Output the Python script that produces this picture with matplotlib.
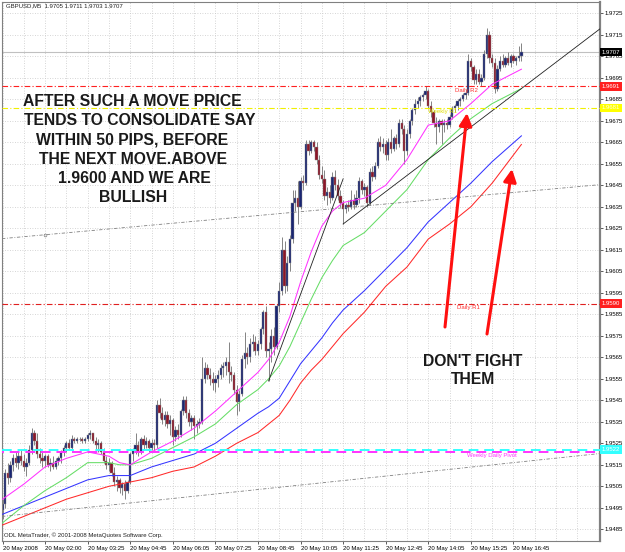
import matplotlib
matplotlib.use("Agg")
import matplotlib.pyplot as plt
from matplotlib.patches import Rectangle
import numpy as np

# ---------------- data ----------------
open_ = [1.9494, 1.9497, 1.9511, 1.9509, 1.9515, 1.9518, 1.9516, 1.9519, 1.9517, 1.9514, 1.9516, 1.9522, 1.9530, 1.9526, 1.9520, 1.9518,
         1.9517, 1.9519, 1.9515, 1.9516, 1.9514, 1.9517, 1.9518, 1.9521, 1.9523, 1.9525, 1.9523, 1.9527, 1.9526, 1.9527, 1.9527, 1.9526,
         1.9527, 1.9529, 1.9530, 1.9526, 1.9524, 1.9525, 1.9521, 1.9517, 1.9515, 1.9516, 1.9511, 1.9507, 1.9508, 1.9504, 1.9506, 1.9503,
         1.9507, 1.9520, 1.9522, 1.9524, 1.9521, 1.9527, 1.9524, 1.9526, 1.9523, 1.9525, 1.9524, 1.9543, 1.9539, 1.9536, 1.9538, 1.9534,
         1.9536, 1.9528, 1.9531, 1.9529, 1.9540, 1.9545, 1.9539, 1.9535, 1.9537, 1.9533, 1.9534, 1.9535, 1.9555, 1.9560, 1.9557, 1.9555,
         1.9553, 1.9555, 1.9557, 1.9560, 1.9561, 1.9563, 1.9558, 1.9557, 1.9550, 1.9544, 1.9548, 1.9564, 1.9567, 1.9565, 1.9571, 1.9572,
         1.9568, 1.9571, 1.9578, 1.9586, 1.9568, 1.9569, 1.9575, 1.9570, 1.9589, 1.9596, 1.9615, 1.9598, 1.9609, 1.9620, 1.9637, 1.9639,
         1.9635, 1.9647, 1.9646, 1.9664, 1.9661, 1.9665, 1.9663, 1.9657, 1.9650, 1.9648, 1.9640, 1.9642, 1.9639, 1.9649, 1.9645, 1.9640,
         1.9637, 1.9634, 1.9636, 1.9635, 1.9638, 1.9636, 1.9639, 1.9647, 1.9643, 1.9644, 1.9637, 1.9651, 1.9649, 1.9654, 1.9665, 1.9663,
         1.9664, 1.9659, 1.9665, 1.9662, 1.9667, 1.9664, 1.9674, 1.9671, 1.9661, 1.9669, 1.9675, 1.9680, 1.9683, 1.9684, 1.9686, 1.9687,
         1.9689, 1.9682, 1.9679, 1.9674, 1.9672, 1.9675, 1.9673, 1.9674, 1.9673, 1.9677, 1.9681, 1.9682, 1.9684, 1.9685, 1.9687, 1.9688,
         1.9703, 1.9700, 1.9694, 1.9697, 1.9693, 1.9695, 1.9706, 1.9715, 1.9704, 1.9702, 1.9690, 1.9699, 1.9703, 1.9701, 1.9704, 1.9702,
         1.9705, 1.9703, 1.9704, 1.9705]
high = [1.9499, 1.9513, 1.9516, 1.9517, 1.9520, 1.9521, 1.9521, 1.9522, 1.9520, 1.9518, 1.9524, 1.9532, 1.9531, 1.9530, 1.9523, 1.9521,
        1.9520, 1.9520, 1.9518, 1.9519, 1.9518, 1.9519, 1.9522, 1.9524, 1.9526, 1.9527, 1.9529, 1.9528, 1.9528, 1.9528, 1.9528, 1.9528,
        1.9530, 1.9531, 1.9530, 1.9528, 1.9527, 1.9526, 1.9523, 1.9519, 1.9518, 1.9517, 1.9514, 1.9510, 1.9509, 1.9507, 1.9508, 1.9508,
        1.9521, 1.9523, 1.9530, 1.9526, 1.9528, 1.9529, 1.9528, 1.9527, 1.9527, 1.9527, 1.9545, 1.9546, 1.9542, 1.9540, 1.9540, 1.9538,
        1.9537, 1.9533, 1.9534, 1.9541, 1.9547, 1.9547, 1.9541, 1.9538, 1.9538, 1.9536, 1.9537, 1.9565, 1.9563, 1.9562, 1.9560, 1.9558,
        1.9557, 1.9559, 1.9562, 1.9563, 1.9565, 1.9572, 1.9561, 1.9558, 1.9552, 1.9550, 1.9566, 1.9577, 1.9570, 1.9574, 1.9576, 1.9575,
        1.9573, 1.9579, 1.9587, 1.9589, 1.9572, 1.9578, 1.9579, 1.9590, 1.9600, 1.9621, 1.9619, 1.9612, 1.9622, 1.9643, 1.9643, 1.9647,
        1.9649, 1.9650, 1.9666, 1.9666, 1.9666, 1.9666, 1.9665, 1.9659, 1.9654, 1.9652, 1.9644, 1.9645, 1.9651, 1.9652, 1.9648, 1.9643,
        1.9638, 1.9637, 1.9638, 1.9643, 1.9641, 1.9643, 1.9649, 1.9648, 1.9646, 1.9645, 1.9653, 1.9654, 1.9656, 1.9667, 1.9668, 1.9667,
        1.9666, 1.9667, 1.9671, 1.9668, 1.9669, 1.9676, 1.9676, 1.9673, 1.9671, 1.9676, 1.9681, 1.9685, 1.9686, 1.9687, 1.9688, 1.9691,
        1.9690, 1.9684, 1.9680, 1.9677, 1.9676, 1.9676, 1.9676, 1.9676, 1.9678, 1.9682, 1.9683, 1.9685, 1.9686, 1.9688, 1.9690, 1.9706,
        1.9704, 1.9701, 1.9699, 1.9699, 1.9697, 1.9708, 1.9718, 1.9717, 1.9706, 1.9704, 1.9701, 1.9705, 1.9706, 1.9705, 1.9707, 1.9706,
        1.9706, 1.9705, 1.9710, 1.9711]
low = [1.9490, 1.9495, 1.9506, 1.9507, 1.9512, 1.9514, 1.9513, 1.9515, 1.9512, 1.9510, 1.9515, 1.9520, 1.9524, 1.9518, 1.9516, 1.9514,
       1.9514, 1.9514, 1.9512, 1.9513, 1.9513, 1.9515, 1.9516, 1.9519, 1.9521, 1.9522, 1.9522, 1.9525, 1.9525, 1.9526, 1.9525, 1.9525,
       1.9526, 1.9527, 1.9525, 1.9522, 1.9521, 1.9520, 1.9516, 1.9513, 1.9512, 1.9510, 1.9505, 1.9503, 1.9502, 1.9501, 1.9499, 1.9502,
       1.9506, 1.9517, 1.9520, 1.9519, 1.9520, 1.9522, 1.9523, 1.9521, 1.9522, 1.9522, 1.9523, 1.9537, 1.9534, 1.9533, 1.9532, 1.9529,
       1.9524, 1.9526, 1.9527, 1.9528, 1.9538, 1.9537, 1.9533, 1.9531, 1.9527, 1.9530, 1.9532, 1.9534, 1.9553, 1.9555, 1.9552, 1.9550,
       1.9549, 1.9551, 1.9555, 1.9556, 1.9557, 1.9553, 1.9554, 1.9548, 1.9538, 1.9540, 1.9547, 1.9560, 1.9562, 1.9563, 1.9568, 1.9566,
       1.9566, 1.9569, 1.9576, 1.9565, 1.9554, 1.9563, 1.9566, 1.9569, 1.9586, 1.9594, 1.9595, 1.9596, 1.9605, 1.9618, 1.9633, 1.9627,
       1.9634, 1.9643, 1.9645, 1.9659, 1.9660, 1.9661, 1.9655, 1.9648, 1.9646, 1.9638, 1.9636, 1.9637, 1.9638, 1.9643, 1.9638, 1.9635,
       1.9627, 1.9632, 1.9633, 1.9634, 1.9634, 1.9635, 1.9637, 1.9641, 1.9640, 1.9635, 1.9636, 1.9647, 1.9648, 1.9653, 1.9661, 1.9660,
       1.9657, 1.9657, 1.9660, 1.9661, 1.9662, 1.9663, 1.9669, 1.9655, 1.9659, 1.9667, 1.9673, 1.9678, 1.9681, 1.9682, 1.9684, 1.9685,
       1.9681, 1.9677, 1.9672, 1.9664, 1.9670, 1.9664, 1.9670, 1.9671, 1.9672, 1.9676, 1.9679, 1.9680, 1.9682, 1.9684, 1.9685, 1.9687,
       1.9698, 1.9692, 1.9692, 1.9692, 1.9691, 1.9694, 1.9704, 1.9702, 1.9700, 1.9688, 1.9689, 1.9698, 1.9700, 1.9700, 1.9701, 1.9700,
       1.9702, 1.9701, 1.9703, 1.9703]
close = [1.9497, 1.9511, 1.9509, 1.9515, 1.9518, 1.9516, 1.9519, 1.9517, 1.9514, 1.9516, 1.9522, 1.9530, 1.9526, 1.9520, 1.9518, 1.9517,
         1.9519, 1.9515, 1.9516, 1.9514, 1.9517, 1.9518, 1.9521, 1.9523, 1.9525, 1.9523, 1.9527, 1.9526, 1.9527, 1.9527, 1.9526, 1.9527,
         1.9529, 1.9530, 1.9526, 1.9524, 1.9525, 1.9521, 1.9517, 1.9515, 1.9516, 1.9511, 1.9507, 1.9508, 1.9504, 1.9506, 1.9503, 1.9507,
         1.9520, 1.9522, 1.9524, 1.9521, 1.9527, 1.9524, 1.9526, 1.9523, 1.9525, 1.9524, 1.9543, 1.9539, 1.9536, 1.9538, 1.9534, 1.9536,
         1.9528, 1.9531, 1.9529, 1.9540, 1.9545, 1.9539, 1.9535, 1.9537, 1.9533, 1.9534, 1.9535, 1.9555, 1.9560, 1.9557, 1.9555, 1.9553,
         1.9555, 1.9557, 1.9560, 1.9561, 1.9563, 1.9558, 1.9557, 1.9550, 1.9544, 1.9548, 1.9564, 1.9567, 1.9565, 1.9571, 1.9572, 1.9568,
         1.9571, 1.9578, 1.9586, 1.9568, 1.9569, 1.9575, 1.9570, 1.9589, 1.9596, 1.9615, 1.9598, 1.9609, 1.9620, 1.9637, 1.9639, 1.9635,
         1.9647, 1.9646, 1.9664, 1.9661, 1.9665, 1.9663, 1.9657, 1.9650, 1.9648, 1.9640, 1.9642, 1.9639, 1.9649, 1.9645, 1.9640, 1.9637,
         1.9634, 1.9636, 1.9635, 1.9638, 1.9636, 1.9639, 1.9647, 1.9643, 1.9644, 1.9637, 1.9651, 1.9649, 1.9654, 1.9665, 1.9663, 1.9664,
         1.9659, 1.9665, 1.9662, 1.9667, 1.9664, 1.9674, 1.9671, 1.9661, 1.9669, 1.9675, 1.9680, 1.9683, 1.9684, 1.9686, 1.9687, 1.9689,
         1.9682, 1.9679, 1.9674, 1.9672, 1.9675, 1.9673, 1.9674, 1.9673, 1.9677, 1.9681, 1.9682, 1.9684, 1.9685, 1.9687, 1.9688, 1.9703,
         1.9700, 1.9694, 1.9697, 1.9693, 1.9695, 1.9706, 1.9715, 1.9704, 1.9702, 1.9690, 1.9699, 1.9703, 1.9701, 1.9704, 1.9702, 1.9705,
         1.9703, 1.9704, 1.9705, 1.9707]

# moving averages at these bars
ma_bars = [0, 8, 16, 24, 32, 40, 44, 48, 56, 64, 72, 80, 88, 96, 100, 104, 108, 112, 116, 120, 124, 128, 136, 144,
           152, 160, 168, 176, 184, 195]
ma_magenta = [1.9499, 1.9506, 1.9514, 1.9518, 1.9521, 1.9519, 1.9516, 1.9515, 1.9521, 1.9526, 1.9532, 1.9540, 1.9549,
              1.9558, 1.9564, 1.9572, 1.9584, 1.9600, 1.9614, 1.9626, 1.9633, 1.9637, 1.9639, 1.9645, 1.9657, 1.9673,
              1.9675, 1.9683, 1.9692, 1.9699]
ma_green = [1.9488, 1.9496, 1.9503, 1.9509, 1.9516, 1.9516, 1.9515, 1.9515, 1.9518, 1.9523, 1.9528, 1.9534, 1.9543,
            1.9550, 1.9555, 1.9561, 1.9570, 1.9581, 1.9592, 1.9602, 1.9610, 1.9617, 1.9623, 1.9633, 1.9643, 1.9657,
            1.9667, 1.9676, 1.9683, 1.9690]
ma_blue = [1.9492, 1.9496, 1.9500, 1.9504, 1.9508, 1.9510, 1.9510, 1.9510, 1.9514, 1.9517, 1.9520, 1.9525, 1.9532,
           1.9539, 1.9542, 1.9546, 1.9554, 1.9562, 1.9568, 1.9574, 1.9581, 1.9587, 1.9596, 1.9606, 1.9616, 1.9628,
           1.9637, 1.9646, 1.9656, 1.9668]
ma_red = [1.9487, 1.9491, 1.9495, 1.9499, 1.9502, 1.9505, 1.9506, 1.9507, 1.9509, 1.9512, 1.9514, 1.9519, 1.9525,
          1.9530, 1.9534, 1.9538, 1.9545, 1.9553, 1.9559, 1.9564, 1.9570, 1.9576, 1.9586, 1.9598, 1.9607, 1.9620,
          1.9627, 1.9635, 1.9646, 1.9664]

time_label_bars = [0, 16, 32, 48, 64, 80, 96, 112, 128, 144, 160, 176, 192]
time_labels = ["20 May 2008", "20 May 02:00", "20 May 03:25", "20 May 04:45", "20 May 06:05", "20 May 07:25",
               "20 May 08:45", "20 May 10:05", "20 May 11:25", "20 May 12:45", "20 May 14:05", "20 May 15:25",
               "20 May 16:45"]
price_ticks = [1.9485, 1.9495, 1.9505, 1.9515, 1.9525, 1.9535, 1.9545, 1.9555, 1.9565, 1.9575, 1.9585, 1.9595,
               1.9605, 1.9615, 1.9625, 1.9635, 1.9645, 1.9655, 1.9665, 1.9675, 1.9685, 1.9695, 1.9705, 1.9715, 1.9725]

bid_price = 1.9707
daily_r2 = 1.9691
weekly_r1 = 1.9681
daily_r1 = 1.9590
weekly_pivot = 1.9522
daily_pivot = 1.9521

# trend line anchors (bar, price)
gray_upper = [(16, 1.9622), (195, 1.9642)]
gray_lower = [(0, 1.9491), (195, 1.95164)]
black_steep = [(100, 1.9554), (128, 1.9648)]
black_ray = [(128, 1.9627), (195, 1.9690)]

# ---------------- figure ----------------
W, H = 625, 552
fig = plt.figure(figsize=(W / 100, H / 100), dpi=100)
fig.patch.set_facecolor('white')
ax = fig.add_axes([2 / W, 11 / H, 598 / W, 539 / H])
ax.set_facecolor('white')
x_left = -0.19
x_right = x_left + 598 / 2.661
ax.set_xlim(x_left, x_right)
ax.set_ylim(1.947956, 1.973026)

SMALL = 4.3
small_font = 'Liberation Sans'

# grid
for b in range(0, 225, 8):
    ax.axvline(b, color='#c8c8c8', lw=0.6, ls=(0, (1, 2)), zorder=0)
for p in price_ticks:
    ax.axhline(p, color='#c8c8c8', lw=0.6, ls=(0, (1, 2)), zorder=0)

# candles
idx = np.arange(len(close))
ax.vlines(idx, low, high, color='#7a7a7a', lw=0.65, zorder=2)
for i in idx:
    o, c = open_[i], close[i]
    bottom = min(o, c)
    h = abs(c - o)
    if h < 0.00003:
        ax.hlines(o, i - 0.4, i + 0.4, color='#7a7a7a', lw=0.7, zorder=2)
        continue
    fc = '#1a2672' if c > o else '#8c1628'
    ax.add_patch(Rectangle((i - 0.42, bottom), 0.84, h, facecolor=fc, edgecolor='#8a8a8a',
                           lw=0.3, zorder=2.5))

# moving averages
ax.plot(ma_bars, ma_red, color='#ff2a2a', lw=0.75, zorder=3)
ax.plot(ma_bars, ma_blue, color='#3535ff', lw=0.75, zorder=3)
ax.plot(ma_bars, ma_green, color='#66dd66', lw=0.75, zorder=3)
ax.plot(ma_bars, ma_magenta, color='#ff33ff', lw=0.75, zorder=3)

# horizontal levels
ax.axhline(bid_price, color='#c0c0c0', lw=0.8, zorder=1)
ax.axhline(daily_r2, color='#ff2020', lw=0.8, ls=(0, (5, 2, 1, 2)), zorder=4)
ax.axhline(weekly_r1, color='#f0f000', lw=0.8, ls=(0, (5, 2, 1, 2)), zorder=4)
ax.axhline(daily_r1, color='#e02020', lw=0.8, ls=(0, (5, 2, 1, 2)), zorder=4)
ax.axhline(weekly_pivot, color='#33ffff', lw=1.4, ls=(0, (5, 3)), zorder=4)
ax.axhline(daily_pivot, color='#ff33ff', lw=1.4, ls=(4, (5, 3)), zorder=4)

# trend lines
ax.axline(gray_upper[0], gray_upper[1], color='#808080', lw=0.6, ls=(0, (4, 2, 1, 2)), zorder=3)
ax.plot(*gray_upper[0], 'o', ms=2, mfc='none', mec='#808080', mew=0.5, zorder=3)
ax.axline(gray_lower[0], gray_lower[1], color='#808080', lw=0.6, ls=(0, (4, 2, 1, 2)), zorder=3)
ax.plot([black_steep[0][0], black_steep[1][0]], [black_steep[0][1], black_steep[1][1]],
        color='#202020', lw=0.6, zorder=3)
(bx0, by0), (bx1, by1) = black_ray
slope = (by1 - by0) / (bx1 - bx0)
ax.plot([bx0, x_right], [by0, by0 + slope * (x_right - bx0)], color='#202020', lw=0.6, zorder=3)

# axes styling
for s in ax.spines.values():
    s.set_color('#808080')
    s.set_linewidth(0.8)
ax.spines['right'].set_linewidth(1.6)
ax.yaxis.tick_right()
ax.set_yticks(price_ticks)
ax.set_yticklabels([f'{p:.4f}' for p in price_ticks], fontsize=SMALL, family=small_font)
ax.tick_params(axis='y', length=2, pad=1.5, width=0.6, color='#404040')
ax.set_xticks(time_label_bars)
ax.set_xticklabels(time_labels, fontsize=SMALL, family=small_font, ha='left')
ax.tick_params(axis='x', length=2, pad=1.5, width=0.6, color='#404040')

# price boxes on the right scale
ytr = ax.get_yaxis_transform()
def price_box(p, fc, tc='white'):
    ax.text(1.003, p, f'{p:.4f}', transform=ytr, ha='left', va='center', fontsize=SMALL,
            family=small_font, color=tc, zorder=10, clip_on=False,
            bbox=dict(boxstyle='square,pad=0.3', fc=fc, ec='none'))
price_box(bid_price, '#000000')
price_box(daily_r2, '#ff2020')
price_box(weekly_r1, '#ffff00', '#ffffe0')
price_box(daily_r1, '#ff2020')
price_box(weekly_pivot, '#33ffff')

# level captions
def ftxt(x, y, s, **kw):
    fig.text(x / W, 1 - y / H, s, **kw)

ftxt(466, 90, 'Daily R2', ha='center', va='center', fontsize=SMALL, family=small_font, color='#ff3030')
ftxt(442, 112, 'Weekly R1', ha='center', va='center', fontsize=SMALL, family=small_font, color='#e0e000')
ftxt(468, 307, 'Daily R1', ha='center', va='center', fontsize=SMALL, family=small_font, color='#ff3030')
ftxt(492, 456, 'Weekly Daily Pivot', ha='center', va='center', fontsize=SMALL, family=small_font, color='#ff33ff')

ftxt(6, 6, 'GBPUSD,M5  1.9705 1.9711 1.9703 1.9707', ha='left', va='center', fontsize=SMALL,
     family=small_font, color='#202020')
ftxt(4, 535, 'ODL MetaTrader, \u00a9 2001-2008 MetaQuotes Software Corp.', ha='left', va='center',
     fontsize=SMALL, family=small_font, color='#202020')

# big annotation texts
big = dict(ha='center', va='baseline', fontsize=11.3, fontweight='bold', family='Liberation Sans',
           color='#1a1a1a')
lines = [("AFTER SUCH A MOVE PRICE", 132.5, 100), ("TENDS TO CONSOLIDATE SAY", 139.5, 119.3),
         ("WITHIN 50 PIPS, BEFORE", 132.5, 138.6), ("THE NEXT MOVE.ABOVE", 133, 157.9),
         ("1.9600 AND WE ARE", 134, 177.2), ("BULLISH", 133.5, 196.5),
         ("DON'T FIGHT", 473, 360), ("THEM", 473, 378.3)]
for s, x, y in lines:
    ftxt(x, y + 5.6, s, **big)

# red arrows
for (x0, y0, x1, y1) in [(445, 327, 467, 113), (487, 334, 512, 169)]:
    ax.annotate('', xy=(x1, H - y1), xycoords='figure pixels', xytext=(x0, H - y0),
                textcoords='figure pixels',
                arrowprops=dict(arrowstyle='-|>,head_length=0.75,head_width=0.38', color='#ff1010',
                                lw=2.2, shrinkA=0, shrinkB=0, mutation_scale=10), zorder=8)

fig.savefig('out.png', dpi=100, facecolor='white')
